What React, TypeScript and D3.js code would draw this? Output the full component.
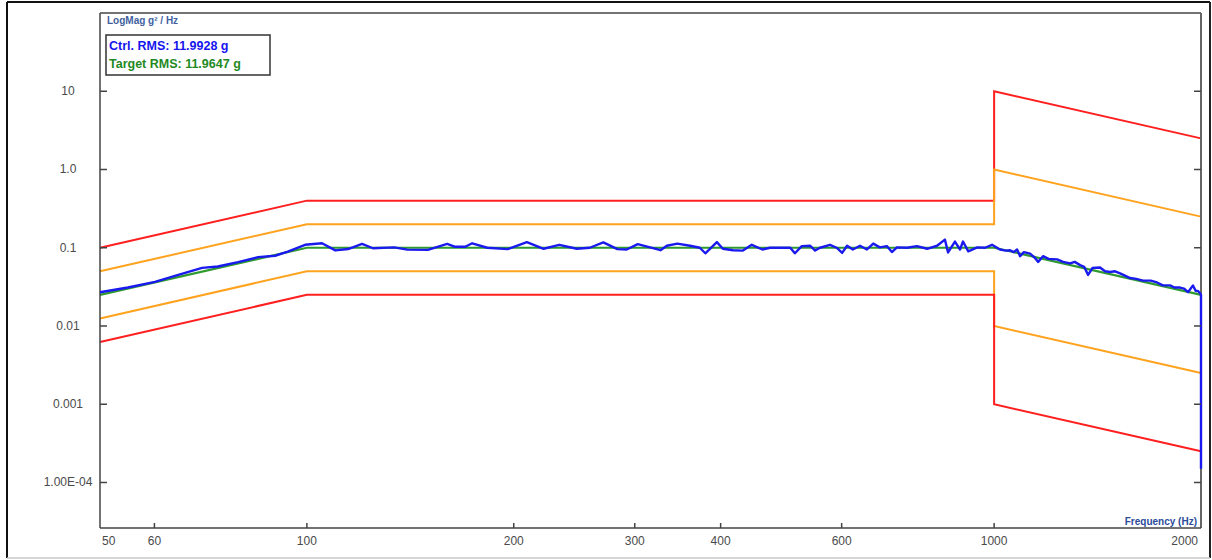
import React from 'react';
import * as d3 from 'd3';

const W = 1212;
const H = 560;

const xTicks = [50, 60, 100, 200, 300, 400, 600, 1000, 2000];
const xTickLabels = ['50', '60', '100', '200', '300', '400', '600', '1000', '2000'];
const yTicks = [10, 1, 0.1, 0.01, 0.001, 0.0001];
const yTickLabels = ['10', '1.0', '0.1', '0.01', '0.001', '1.00E-04'];

const refFreq = [50, 100, 1000, 2000];
const refVal = [0.025, 0.1, 0.1, 0.025];

const limFreq = [50, 100, 1000, 1000, 2000];
const abortHigh = [0.1, 0.4, 0.4, 10, 2.5];
const alarmHigh = [0.05, 0.2, 0.2, 1, 0.25];
const alarmLow = [0.0125, 0.05, 0.05, 0.01, 0.0025];
const abortLow = [0.00625, 0.025, 0.025, 0.001, 0.00025];

const ctrlFreq = [
  50, 54.9, 60.1, 65, 70.4, 74.2, 79.4, 84.9, 89.9, 93.8, 99.4, 105.2, 110, 114.8, 120.3, 124.8,
  134, 140, 150, 160, 164, 170, 174, 183, 196, 209, 221, 233, 247, 258, 270, 283, 292, 303, 327,
  334, 346, 361, 373, 380, 395, 403, 417, 431, 444, 460, 472, 488, 505, 513, 525, 540, 549, 558,
  577, 590, 601, 611, 623, 638, 653, 667, 682, 698, 710, 722, 747, 772, 799, 826, 848, 857, 877,
  892, 901, 917, 945, 970, 993, 1020, 1040, 1055, 1068, 1080, 1091, 1105, 1128, 1145, 1159, 1178,
  1200, 1235, 1260, 1290, 1310, 1334, 1352, 1370, 1390, 1426, 1450, 1475, 1500, 1525, 1550, 1577,
  1610, 1647, 1690, 1726, 1760, 1803, 1830, 1864, 1890, 1915, 1947, 1965, 1980, 1995, 2000, 2000,
];
const ctrlVal = [
  0.027, 0.031, 0.0366, 0.045, 0.0553, 0.0575, 0.0655, 0.0758, 0.079, 0.0893, 0.109, 0.114, 0.0924,
  0.0963, 0.112, 0.0985, 0.101, 0.0945, 0.094, 0.112, 0.103, 0.103, 0.114, 0.1, 0.096, 0.118, 0.097,
  0.109, 0.097, 0.1, 0.117, 0.096, 0.095, 0.111, 0.093, 0.106, 0.113, 0.106, 0.1, 0.085, 0.118, 0.097,
  0.093, 0.092, 0.109, 0.095, 0.1, 0.1, 0.1, 0.085, 0.105, 0.106, 0.092, 0.1, 0.109, 0.1, 0.086, 0.106,
  0.095, 0.106, 0.095, 0.113, 0.101, 0.105, 0.088, 0.101, 0.1, 0.105, 0.097, 0.106, 0.127, 0.087, 0.12,
  0.095, 0.12, 0.09, 0.101, 0.1, 0.109, 0.095, 0.092, 0.093, 0.088, 0.095, 0.078, 0.088, 0.084, 0.075,
  0.066, 0.078, 0.072, 0.071, 0.066, 0.063, 0.066, 0.06, 0.057, 0.045, 0.055, 0.056, 0.05, 0.049, 0.05,
  0.047, 0.044, 0.041, 0.04, 0.038, 0.038, 0.036, 0.033, 0.033, 0.031, 0.031, 0.03, 0.027, 0.033, 0.028,
  0.028, 0.026, 0.025, 0.00015,
];

const left = 100;
const right = 1201;
const top = 13;
const bottom = 528;

const x = d3.scaleLog().domain([50, 2000]).range([left, right]);
const y = d3.scaleLog().domain([2.62e-5, 100]).range([bottom, top]);

const line = d3
  .line<[number, number]>()
  .x((d) => x(d[0]))
  .y((d) => y(d[1]));

const zip = (f: number[], v: number[]) => f.map((ff, i) => [ff, v[i]] as [number, number]);

const FONT = '"Liberation Sans", Arial, sans-serif';

export default function App() {
  return (
    <svg
      width={W}
      height={H}
      style={{ position: 'absolute', left: 0, top: 0, background: '#fff' }}
      fontFamily={FONT}
    >
      {/* outer frame */}
      <line x1={7} y1={2} x2={1210} y2={2} stroke="#111" strokeWidth={2} />
      <line x1={7} y1={2} x2={7} y2={558} stroke="#111" strokeWidth={2} />
      <line x1={1210} y1={2} x2={1210} y2={558} stroke="#222" strokeWidth={2} />
      <line x1={7} y1={558} x2={1210} y2={558} stroke="#c8c8c8" strokeWidth={1.5} />

      {/* limits and reference */}
      <path d={line(zip(refFreq, refVal)) || ''} fill="none" stroke="#2e9a2e" strokeWidth={2.2} />
      <path d={line(zip(limFreq, abortHigh)) || ''} fill="none" stroke="#ff1f1f" strokeWidth={2} />
      <path d={line(zip(limFreq, alarmHigh)) || ''} fill="none" stroke="#ffa31f" strokeWidth={2} />
      <path d={line(zip(limFreq, alarmLow)) || ''} fill="none" stroke="#ffa31f" strokeWidth={2} />
      <path d={line(zip(limFreq, abortLow)) || ''} fill="none" stroke="#ff1f1f" strokeWidth={2} />

      {/* plot box */}
      <line x1={left} y1={top} x2={right} y2={top} stroke="#444" strokeWidth={1.5} />
      <line x1={left} y1={top} x2={left} y2={bottom} stroke="#444" strokeWidth={1.5} />
      <line x1={right} y1={top} x2={right} y2={bottom} stroke="#666" strokeWidth={2} />
      <line x1={left} y1={bottom} x2={right} y2={bottom} stroke="#444" strokeWidth={1.5} />

      {/* control */}
      <path
        d={line(zip(ctrlFreq, ctrlVal)) || ''}
        fill="none"
        stroke="#1a1aee"
        strokeWidth={2.4}
        strokeLinejoin="round"
      />

      {/* y ticks */}
      {yTicks.map((t, i) => (
        <g key={'y' + i}>
          <line x1={left} x2={left + 7} y1={y(t)} y2={y(t)} stroke="#444" strokeWidth={1.5} />
          <line x1={right - 7} x2={right} y1={y(t)} y2={y(t)} stroke="#444" strokeWidth={1.5} />
          <text x={68} y={y(t) + 4} textAnchor="middle" fontSize={12} fill="#4a4a4a">
            {yTickLabels[i]}
          </text>
        </g>
      ))}

      {/* x ticks */}
      {xTicks.map((t, i) => {
        const first = i === 0;
        const last = i === xTicks.length - 1;
        return (
          <g key={'x' + i}>
            {!first && !last && (
              <line x1={x(t)} x2={x(t)} y1={bottom} y2={bottom - 5} stroke="#444" strokeWidth={1.5} />
            )}
            <text
              x={first ? x(t) + 2 : last ? x(t) - 3 : x(t)}
              y={545}
              textAnchor={first ? 'start' : last ? 'end' : 'middle'}
              fontSize={12}
              fill="#4a4a4a"
            >
              {xTickLabels[i]}
            </text>
          </g>
        );
      })}

      {/* titles */}
      <text x={107} y={24} fontSize={10} fontWeight="bold" fill="#3f5f9f">
        LogMag g² / Hz
      </text>
      <text x={1197} y={525} textAnchor="end" fontSize={10} fontWeight="bold" fill="#2b4c9a">
        Frequency (Hz)
      </text>

      {/* legend */}
      <rect x={106} y={35} width={164} height={40} fill="#fff" stroke="#333" strokeWidth={1.5} />
      <text x={109} y={50} fontSize={12.5} fontWeight="bold" fill="#1515ee">
        Ctrl. RMS: 11.9928 g
      </text>
      <text x={109} y={68} fontSize={12.5} fontWeight="bold" fill="#1f8a1f">
        Target RMS: 11.9647 g
      </text>
    </svg>
  );
}
